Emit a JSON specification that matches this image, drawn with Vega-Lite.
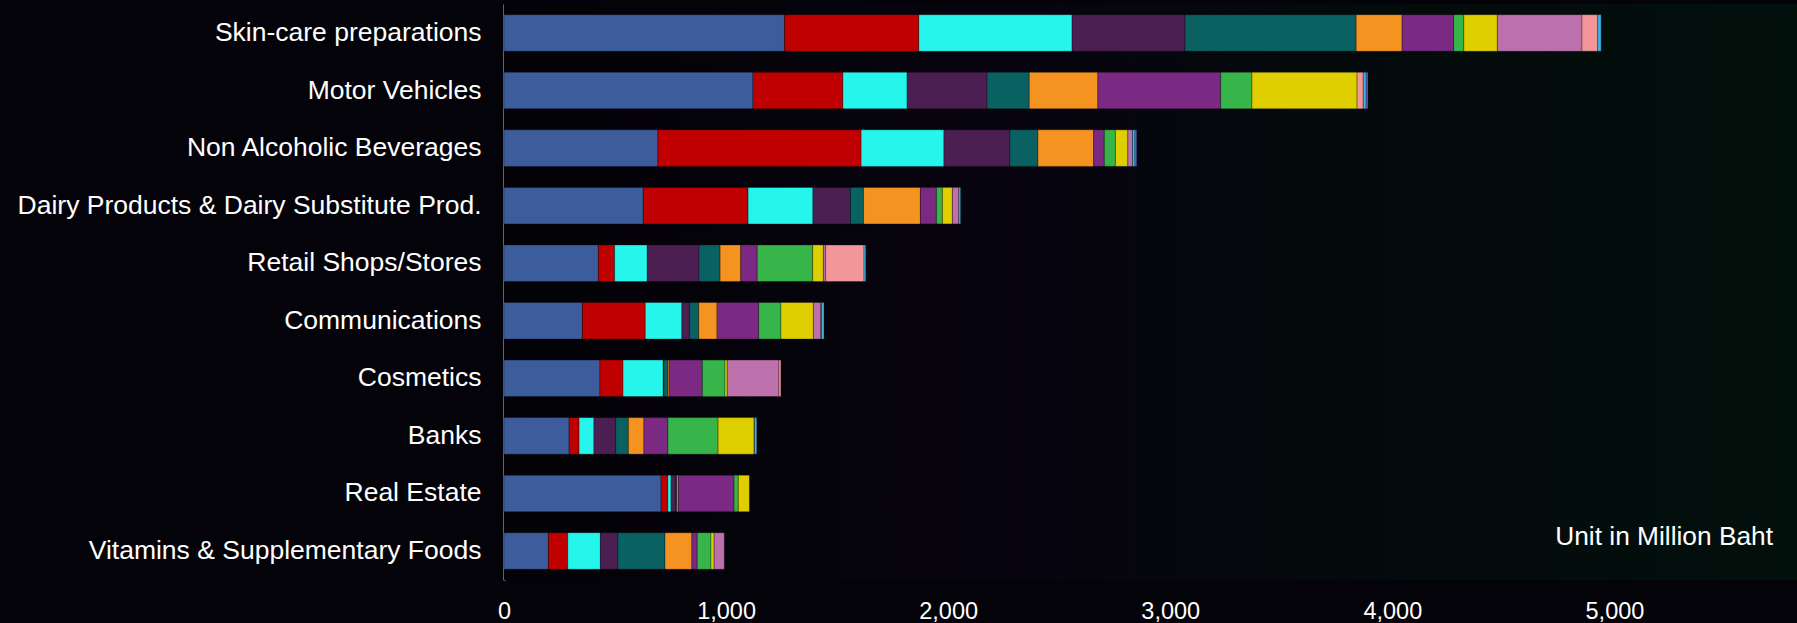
{
  "$schema": "https://vega.github.io/schema/vega-lite/v6.json",
  "width": 1293,
  "height": 576,
  "autosize": "none",
  "padding": {"left": 504, "top": 4, "right": 0, "bottom": 43},
  "background": "#040309",
  "datasets": {
    "spend": [
      {"industry": "Skin-care preparations", "segment": "S01", "value": 1263},
      {"industry": "Skin-care preparations", "segment": "S02", "value": 605},
      {"industry": "Skin-care preparations", "segment": "S03", "value": 690},
      {"industry": "Skin-care preparations", "segment": "S04", "value": 508},
      {"industry": "Skin-care preparations", "segment": "S05", "value": 771},
      {"industry": "Skin-care preparations", "segment": "S06", "value": 207},
      {"industry": "Skin-care preparations", "segment": "S07", "value": 232},
      {"industry": "Skin-care preparations", "segment": "S08", "value": 46},
      {"industry": "Skin-care preparations", "segment": "S09", "value": 151},
      {"industry": "Skin-care preparations", "segment": "S10", "value": 381},
      {"industry": "Skin-care preparations", "segment": "S11", "value": 71},
      {"industry": "Skin-care preparations", "segment": "S12", "value": 15},

      {"industry": "Motor Vehicles", "segment": "S01", "value": 1121},
      {"industry": "Motor Vehicles", "segment": "S02", "value": 405},
      {"industry": "Motor Vehicles", "segment": "S03", "value": 289},
      {"industry": "Motor Vehicles", "segment": "S04", "value": 360},
      {"industry": "Motor Vehicles", "segment": "S05", "value": 190},
      {"industry": "Motor Vehicles", "segment": "S06", "value": 309},
      {"industry": "Motor Vehicles", "segment": "S07", "value": 553},
      {"industry": "Motor Vehicles", "segment": "S08", "value": 141},
      {"industry": "Motor Vehicles", "segment": "S09", "value": 473},
      {"industry": "Motor Vehicles", "segment": "S11", "value": 28},
      {"industry": "Motor Vehicles", "segment": "S12", "value": 13},
      {"industry": "Motor Vehicles", "segment": "S13", "value": 8},

      {"industry": "Non Alcoholic Beverages", "segment": "S01", "value": 693},
      {"industry": "Non Alcoholic Beverages", "segment": "S02", "value": 915},
      {"industry": "Non Alcoholic Beverages", "segment": "S03", "value": 373},
      {"industry": "Non Alcoholic Beverages", "segment": "S04", "value": 297},
      {"industry": "Non Alcoholic Beverages", "segment": "S05", "value": 126},
      {"industry": "Non Alcoholic Beverages", "segment": "S06", "value": 251},
      {"industry": "Non Alcoholic Beverages", "segment": "S07", "value": 48},
      {"industry": "Non Alcoholic Beverages", "segment": "S08", "value": 50},
      {"industry": "Non Alcoholic Beverages", "segment": "S09", "value": 56},
      {"industry": "Non Alcoholic Beverages", "segment": "S10", "value": 21},
      {"industry": "Non Alcoholic Beverages", "segment": "S12", "value": 11},
      {"industry": "Non Alcoholic Beverages", "segment": "S13", "value": 8},

      {"industry": "Dairy Products & Dairy Substitute Prod.", "segment": "S01", "value": 627},
      {"industry": "Dairy Products & Dairy Substitute Prod.", "segment": "S02", "value": 472},
      {"industry": "Dairy Products & Dairy Substitute Prod.", "segment": "S03", "value": 292},
      {"industry": "Dairy Products & Dairy Substitute Prod.", "segment": "S04", "value": 169},
      {"industry": "Dairy Products & Dairy Substitute Prod.", "segment": "S05", "value": 59},
      {"industry": "Dairy Products & Dairy Substitute Prod.", "segment": "S06", "value": 256},
      {"industry": "Dairy Products & Dairy Substitute Prod.", "segment": "S07", "value": 72},
      {"industry": "Dairy Products & Dairy Substitute Prod.", "segment": "S08", "value": 27},
      {"industry": "Dairy Products & Dairy Substitute Prod.", "segment": "S09", "value": 45},
      {"industry": "Dairy Products & Dairy Substitute Prod.", "segment": "S10", "value": 29},
      {"industry": "Dairy Products & Dairy Substitute Prod.", "segment": "S12", "value": 8},

      {"industry": "Retail Shops/Stores", "segment": "S01", "value": 425},
      {"industry": "Retail Shops/Stores", "segment": "S02", "value": 73},
      {"industry": "Retail Shops/Stores", "segment": "S03", "value": 147},
      {"industry": "Retail Shops/Stores", "segment": "S04", "value": 233},
      {"industry": "Retail Shops/Stores", "segment": "S05", "value": 95},
      {"industry": "Retail Shops/Stores", "segment": "S06", "value": 93},
      {"industry": "Retail Shops/Stores", "segment": "S07", "value": 74},
      {"industry": "Retail Shops/Stores", "segment": "S08", "value": 250},
      {"industry": "Retail Shops/Stores", "segment": "S09", "value": 48},
      {"industry": "Retail Shops/Stores", "segment": "S10", "value": 10},
      {"industry": "Retail Shops/Stores", "segment": "S11", "value": 173},
      {"industry": "Retail Shops/Stores", "segment": "S12", "value": 8},

      {"industry": "Communications", "segment": "S01", "value": 353},
      {"industry": "Communications", "segment": "S02", "value": 283},
      {"industry": "Communications", "segment": "S03", "value": 165},
      {"industry": "Communications", "segment": "S04", "value": 35},
      {"industry": "Communications", "segment": "S05", "value": 41},
      {"industry": "Communications", "segment": "S06", "value": 82},
      {"industry": "Communications", "segment": "S07", "value": 188},
      {"industry": "Communications", "segment": "S08", "value": 100},
      {"industry": "Communications", "segment": "S09", "value": 146},
      {"industry": "Communications", "segment": "S10", "value": 33},
      {"industry": "Communications", "segment": "S11", "value": 4},
      {"industry": "Communications", "segment": "S12", "value": 11},

      {"industry": "Cosmetics", "segment": "S01", "value": 432},
      {"industry": "Cosmetics", "segment": "S02", "value": 104},
      {"industry": "Cosmetics", "segment": "S03", "value": 181},
      {"industry": "Cosmetics", "segment": "S04", "value": 3},
      {"industry": "Cosmetics", "segment": "S05", "value": 17},
      {"industry": "Cosmetics", "segment": "S06", "value": 6},
      {"industry": "Cosmetics", "segment": "S07", "value": 150},
      {"industry": "Cosmetics", "segment": "S08", "value": 102},
      {"industry": "Cosmetics", "segment": "S09", "value": 10},
      {"industry": "Cosmetics", "segment": "S10", "value": 233},
      {"industry": "Cosmetics", "segment": "S11", "value": 9},

      {"industry": "Banks", "segment": "S01", "value": 293},
      {"industry": "Banks", "segment": "S02", "value": 45},
      {"industry": "Banks", "segment": "S03", "value": 67},
      {"industry": "Banks", "segment": "S04", "value": 98},
      {"industry": "Banks", "segment": "S05", "value": 57},
      {"industry": "Banks", "segment": "S06", "value": 70},
      {"industry": "Banks", "segment": "S07", "value": 108},
      {"industry": "Banks", "segment": "S08", "value": 226},
      {"industry": "Banks", "segment": "S09", "value": 162},
      {"industry": "Banks", "segment": "S11", "value": 2},
      {"industry": "Banks", "segment": "S12", "value": 10},

      {"industry": "Real Estate", "segment": "S01", "value": 707},
      {"industry": "Real Estate", "segment": "S02", "value": 31},
      {"industry": "Real Estate", "segment": "S03", "value": 14},
      {"industry": "Real Estate", "segment": "S04", "value": 22},
      {"industry": "Real Estate", "segment": "S05", "value": 4},
      {"industry": "Real Estate", "segment": "S06", "value": 7},
      {"industry": "Real Estate", "segment": "S07", "value": 251},
      {"industry": "Real Estate", "segment": "S08", "value": 19},
      {"industry": "Real Estate", "segment": "S09", "value": 50},

      {"industry": "Vitamins & Supplementary Foods", "segment": "S01", "value": 200},
      {"industry": "Vitamins & Supplementary Foods", "segment": "S02", "value": 87},
      {"industry": "Vitamins & Supplementary Foods", "segment": "S03", "value": 147},
      {"industry": "Vitamins & Supplementary Foods", "segment": "S04", "value": 79},
      {"industry": "Vitamins & Supplementary Foods", "segment": "S05", "value": 212},
      {"industry": "Vitamins & Supplementary Foods", "segment": "S06", "value": 121},
      {"industry": "Vitamins & Supplementary Foods", "segment": "S07", "value": 24},
      {"industry": "Vitamins & Supplementary Foods", "segment": "S08", "value": 62},
      {"industry": "Vitamins & Supplementary Foods", "segment": "S09", "value": 14},
      {"industry": "Vitamins & Supplementary Foods", "segment": "S10", "value": 46}
    ]
  },
  "layer": [
    {
      "data": {"values": [{"start": 0, "end": 5822}]},
      "mark": {
        "type": "rect",
        "fill": {
          "gradient": "linear",
          "x1": 0, "y1": 0, "x2": 1, "y2": 0,
          "stops": [
            {"offset": 0, "color": "#030206"},
            {"offset": 0.4, "color": "#07040f"},
            {"offset": 0.65, "color": "#040a0b"},
            {"offset": 1, "color": "#02100c"}
          ]
        }
      },
      "encoding": {
        "x": {"field": "start", "type": "quantitative", "scale": {"domain": [0, 5822]}},
        "x2": {"field": "end"}
      }
    },
    {
      "data": {"name": "spend"},
      "mark": {"type": "bar", "stroke": "#000000", "strokeWidth": 1, "strokeOpacity": 0.3},
      "encoding": {
        "y": {
          "field": "industry",
          "type": "nominal",
          "scale": {
            "domain": [
              "Skin-care preparations",
              "Motor Vehicles",
              "Non Alcoholic Beverages",
              "Dairy Products & Dairy Substitute Prod.",
              "Retail Shops/Stores",
              "Communications",
              "Cosmetics",
              "Banks",
              "Real Estate",
              "Vitamins & Supplementary Foods"
            ],
            "paddingInner": 0.365,
            "paddingOuter": 0.186
          },
          "axis": {
            "title": null,
            "ticks": false,
            "labelPadding": 23,
            "labelFont": "Liberation Sans",
            "labelFontSize": 26.5,
            "labelColor": "#FFFFFF",
            "labelLimit": 600,
            "domainColor": "#C4C4C4",
            "domainWidth": 2,
            "grid": false
          }
        },
        "x": {
          "field": "value",
          "type": "quantitative",
          "stack": "zero",
          "scale": {"domain": [0, 5822], "nice": false},
          "axis": {
            "title": null,
            "values": [0, 1000, 2000, 3000, 4000, 5000],
            "format": ",d",
            "domain": false,
            "ticks": false,
            "grid": false,
            "labelPadding": 19,
            "labelFont": "Liberation Sans",
            "labelFontSize": 23.5,
            "labelColor": "#FFFFFF",
            "labelFlush": false
          }
        },
        "color": {
          "field": "segment",
          "type": "nominal",
          "legend": null,
          "scale": {
            "domain": ["S01", "S02", "S03", "S04", "S05", "S06", "S07", "S08", "S09", "S10", "S11", "S12", "S13"],
            "range": ["#3C5C9B", "#C00000", "#26F5EC", "#4C1F52", "#0A6161", "#F59320", "#7B2982", "#38B54A", "#DFCF00", "#BC71AD", "#F2969A", "#3FB5E8", "#6670C8"]
          }
        },
        "order": {"field": "segment", "type": "nominal", "sort": "ascending"}
      }
    },
    {
      "data": {"values": [{"label": "Unit in Million Baht", "xpos": 5714, "row": "Vitamins & Supplementary Foods"}]},
      "mark": {
        "type": "text",
        "align": "right",
        "baseline": "middle",
        "dy": -14,
        "font": "Liberation Sans",
        "fontSize": 26.3,
        "color": "#FFFFFF"
      },
      "encoding": {
        "x": {"field": "xpos", "type": "quantitative"},
        "y": {"field": "row", "type": "nominal"},
        "text": {"field": "label"}
      }
    }
  ],
  "config": {
    "view": {"stroke": null}
  }
}
